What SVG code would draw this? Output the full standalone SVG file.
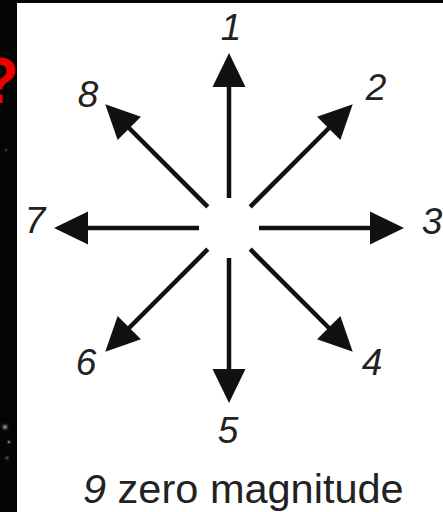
<svg xmlns="http://www.w3.org/2000/svg" width="443" height="512" viewBox="0 0 443 512">
  <style>
    .lbl { font-family: "Liberation Sans", Arial, sans-serif; font-style: italic; font-size: 37px; fill: #222; }
    .cap { font-family: "Liberation Sans", Arial, sans-serif; font-size: 41.5px; fill: #222; }
    .shaft { stroke: #111; stroke-width: 4.5; }
    .head { fill: #111; }
  </style>
  <defs>
    <g id="arrow">
      <line class="shaft" x1="30" y1="0" x2="146" y2="0"/>
      <polygon class="head" points="141,-16.5 175,0 141,16.5"/>
    </g>
    <radialGradient id="speck">
      <stop offset="0" stop-color="#bbb"/>
      <stop offset="1" stop-color="#000" stop-opacity="0"/>
    </radialGradient>
  </defs>

  <rect id="background" x="0" y="0" width="443" height="512" fill="#050505"/>
  <text x="-20" y="103" font-family="Liberation Sans, Arial, sans-serif" font-weight="bold" font-size="64" fill="#e00">?</text>
  <circle cx="5" cy="427" r="5" fill="url(#speck)"/>
  <circle cx="9" cy="442" r="3" fill="url(#speck)"/>
  <circle cx="7" cy="458" r="4" fill="url(#speck)" opacity="0.5"/>
  <circle cx="6" cy="150" r="3" fill="url(#speck)" opacity="0.4"/>
  <rect id="panel" x="17" y="3" width="426" height="509" fill="#fff"/>

  <g id="connectors" transform="translate(229,228)">
    <use href="#arrow" transform="rotate(-90)"/>
    <use href="#arrow" transform="rotate(-45)"/>
    <use href="#arrow" transform="rotate(0)"/>
    <use href="#arrow" transform="rotate(45)"/>
    <use href="#arrow" transform="rotate(90)"/>
    <use href="#arrow" transform="rotate(135)"/>
    <use href="#arrow" transform="rotate(180)"/>
    <use href="#arrow" transform="rotate(-135)"/>
  </g>

  <g id="label-1"><text class="lbl" x="231" y="40" text-anchor="middle">1</text></g>
  <g id="label-2"><text class="lbl" x="376" y="100" text-anchor="middle">2</text></g>
  <g id="label-3"><text class="lbl" x="432" y="234" text-anchor="middle">3</text></g>
  <g id="label-4"><text class="lbl" x="372" y="375" text-anchor="middle">4</text></g>
  <g id="label-5"><text class="lbl" x="228" y="443" text-anchor="middle">5</text></g>
  <g id="label-6"><text class="lbl" x="86" y="375" text-anchor="middle">6</text></g>
  <g id="label-7"><text class="lbl" x="35" y="233" text-anchor="middle">7</text></g>
  <g id="label-8"><text class="lbl" x="88" y="107" text-anchor="middle">8</text></g>
  <g id="label-9"><text class="cap" x="83" y="503"><tspan font-style="italic">9</tspan> zero magnitude</text></g>
</svg>
